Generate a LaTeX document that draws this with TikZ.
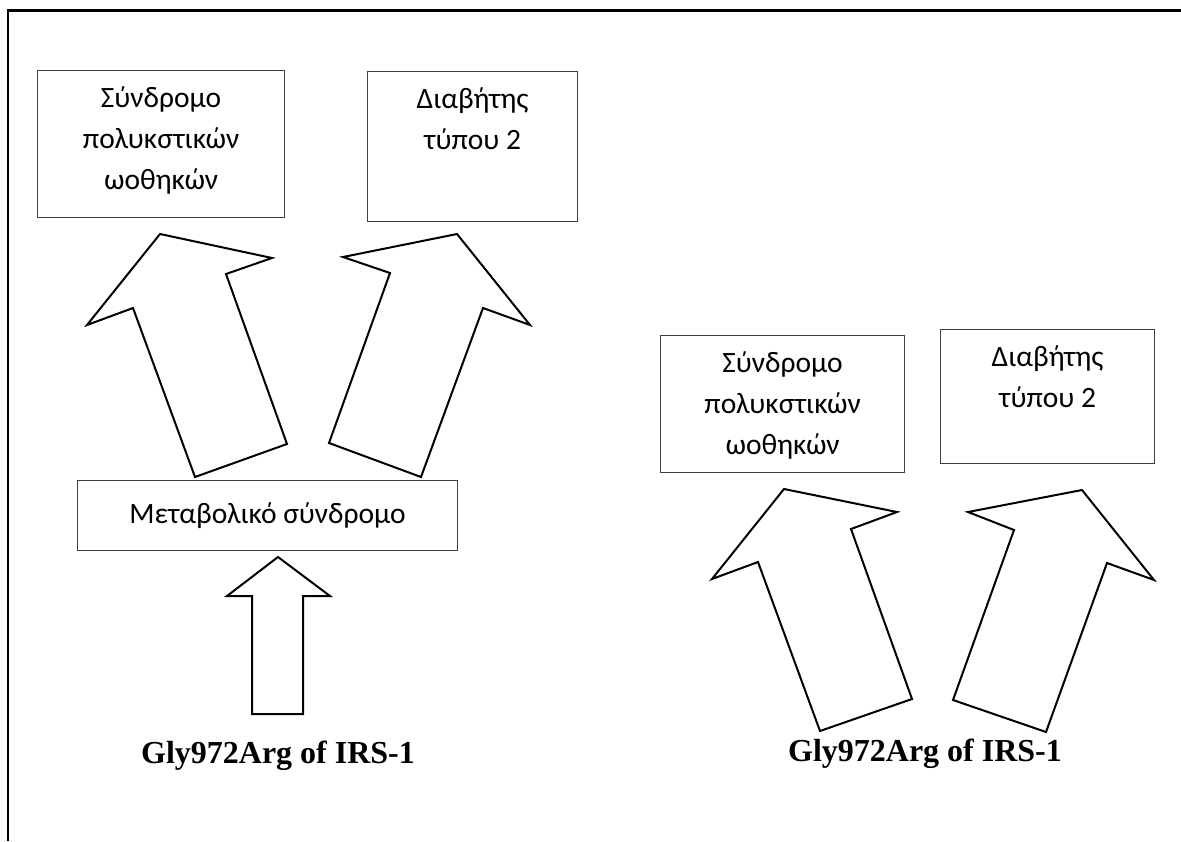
\documentclass[tikz,border=0pt]{standalone}
\usepackage{fontspec}
\setmainfont{Carlito}
\newfontfamily\genefont{Liberation Serif}
\usetikzlibrary{positioning}

\begin{document}
\begin{tikzpicture}[
		x=1pt, y=-1pt,
		box/.style={
			draw=black!75,
			line width=1.2pt,
			anchor=north west,
			inner sep=0pt,
			font=\fontsize{29.5}{41}\selectfont
		},
		boxtext/.style={align=center, inner sep=0pt, font=\fontsize{29.5}{41}\selectfont},
		block/.style={draw, line width=2pt, line join=miter, fill=white},
		gene/.style={inner sep=0pt, anchor=base, font=\genefont\bfseries\fontsize{32}{38}\selectfont}
		]
		
		\useasboundingbox (0,0) rectangle (1181,841);
		\draw[line width=2.5pt] (8,841) -- (8,10.5) -- (1181,10.5);
		
		% left part
		\node[box, minimum width=247pt, minimum height=147pt] (pcosA) at (37,70) {};
		\node[boxtext, below=17pt of pcosA.north] (pcosAtxt) {Σύνδρομο\\πολυκστικών\\ωοθηκών};
		\node[box, minimum width=210pt, minimum height=150pt] (diabA) at (367,71) {};
		\node[boxtext, below=17pt of diabA.north] (diabAtxt) {Διαβήτης\\τύπου 2};
		\node[box, minimum width=380pt, minimum height=70pt] (metab) at (77,480) {Μεταβολικό σύνδρομο};
		\node[gene] (geneA) at (278,763) {Gly972Arg of IRS-1};
		
		\draw[block] (160,234) -- (272,258) -- (226,274) -- (287,444) -- (195,477) -- (133,308) -- (87,325) -- cycle;
		\draw[block] (457,234) -- (530,325) -- (483,308) -- (421,477) -- (329,443) -- (390,273) -- (343,257) -- cycle;
		\draw[block] (278,557) -- (330,596) -- (303,596) -- (303,714) -- (252,714) -- (252,596) -- (227,596) -- cycle;
		
		% right part
		\node[box, minimum width=244pt, minimum height=137pt] (pcosB) at (660,335) {};
		\node[boxtext, below=17pt of pcosB.north] (pcosBtxt) {Σύνδρομο\\πολυκστικών\\ωοθηκών};
		\node[box, minimum width=214pt, minimum height=134pt] (diabB) at (940,329) {};
		\node[boxtext, below=17pt of diabB.north] (diabBtxt) {Διαβήτης\\τύπου 2};
		\node[gene] (geneB) at (925,761) {Gly972Arg of IRS-1};
		
		\draw[block] (784,489) -- (897,512) -- (851,529) -- (912,699) -- (820,731) -- (758,562) -- (712,579) -- cycle;
		\draw[block] (1082,490) -- (1154,580) -- (1107,563) -- (1046,732) -- (953,700) -- (1014,530) -- (968,512) -- cycle;
		
	\end{tikzpicture}
\end{document}
